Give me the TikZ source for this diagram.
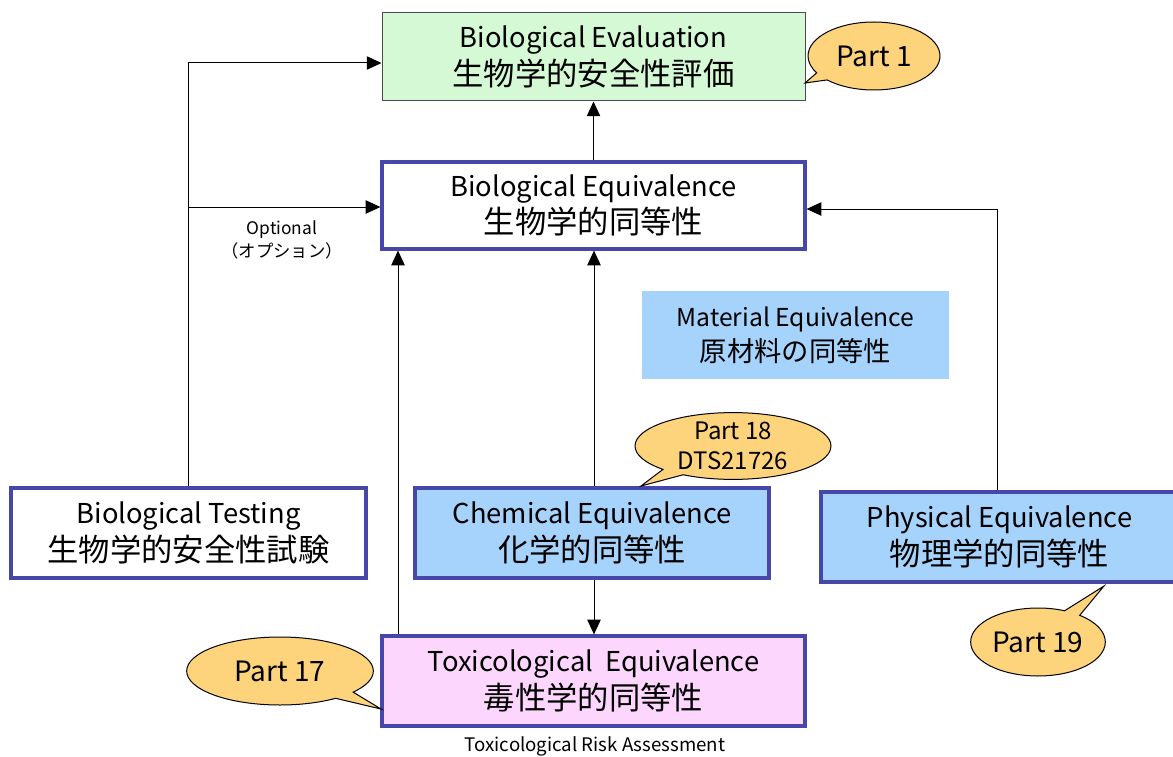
\documentclass[tikz,border=0pt]{standalone}
\usepackage{fontspec}
\setmainfont{Noto Sans CJK JP}
\usetikzlibrary{arrows.meta,shapes.callouts,shapes.geometric}
\definecolor{evalgreen}{HTML}{D5F9D4}
\definecolor{boxblue}{HTML}{4747A8}
\definecolor{lightblue}{HTML}{A6D3FB}
\definecolor{pinkfill}{HTML}{FCD6FC}
\definecolor{calloutfill}{HTML}{FDD37B}
\newcommand{\jpl}{\fontsize{23.5}{28}\selectfont}
\tikzset{
  box/.style={draw=boxblue, line width=2.4pt, inner sep=0pt, align=center, font=\fontsize{20.5}{28}\selectfont},
  evalbox/.style={draw=black!70, line width=0.75pt, fill=evalgreen, inner sep=0pt, align=center, font=\fontsize{20.5}{28}\selectfont},
  callbox/.style={ellipse callout, draw=black, line width=0.75pt, fill=calloutfill, inner sep=0pt, align=center, font=\fontsize{21}{23}\selectfont},
  conn/.style={draw=black, line width=0.75pt},
  arr/.style={conn, -{Triangle[length=11pt,width=10pt]}}
}
\begin{document}
\begin{tikzpicture}[x=0.75pt,y=-0.75pt]
\clip (0,0) rectangle (1173,756);
\fill[white] (0,0) rectangle (1173,756);

\node[evalbox, minimum width=317.25pt, minimum height=66pt] (eval) at (593.5,57)
  {Biological Evaluation\\{\jpl 生物学的安全性評価}};
\node[box, fill=white, minimum width=317.25pt, minimum height=65.25pt] (equiv) at (593.5,205.5)
  {Biological Equivalence\\{\jpl 生物学的同等性}};
\node[fill=lightblue, inner sep=0pt, align=center, font=\fontsize{18.5}{26}\selectfont, minimum width=230.25pt, minimum height=66pt] (mat) at (795.5,335)
  {Material Equivalence\\{\fontsize{20.5}{26}\selectfont 原材料の同等性}};
\node[box, fill=white, minimum width=266.25pt, minimum height=67.5pt] (test) at (188.5,533)
  {Biological Testing\\{\jpl 生物学的安全性試験}};
\node[box, fill=lightblue, minimum width=265.5pt, minimum height=67.5pt] (chem) at (592,533)
  {Chemical Equivalence\\{\jpl 化学的同等性}};
\node[box, fill=lightblue, minimum width=267.75pt, minimum height=67.5pt] (phys) at (999.5,537)
  {Physical Equivalence\\{\jpl 物理学的同等性}};
\node[box, fill=pinkfill, minimum width=317.25pt, minimum height=67.5pt] (tox) at (593.5,681)
  {Toxicological\ \ Equivalence\\{\jpl 毒性学的同等性}};
\node[font=\fontsize{14}{16}\selectfont] (risk) at (595,746) {Toxicological Risk Assessment};

% connectors
\coordinate (c1) at (188,63);
\coordinate (c2) at (188,207);
\coordinate (c3) at (997,209);
\draw[arr] (test.north -| c1) -- (c1) -- (c1 -| eval.west);
\draw[arr] (c2) -- (c2 -| equiv.west);
\node[font=\fontsize{13}{17}\selectfont, align=center] (opt) at (282,240) {Optional\\（オプション）};
\draw[arr] (equiv.north -| eval.south) -- (eval.south);
\draw[arr] (tox.north -| 398,0) -- (equiv.south -| 398,0);
\draw[arr] (chem.north -| 594,0) -- (equiv.south -| 594,0);
\draw[arr] (chem.south -| 594,0) -- (tox.north -| 594,0);
\draw[arr] (phys.north -| c3) -- (c3) -- (c3 -| equiv.east);

% callouts
\coordinate (p1) at (805,83);
\coordinate (p18) at (641,486);
\coordinate (p19) at (1104,586);
\coordinate (p17) at (381,709);
\node[callbox, minimum width=99pt, minimum height=51pt, callout absolute pointer={(p1)}] (part1) at (874,56) {Part 1};
\node[callbox, minimum width=147pt, minimum height=49.5pt, callout absolute pointer={(p18)}, font=\fontsize{18}{22}\selectfont] (part18) at (733,446) {Part 18\\DTS21726};
\node[callbox, minimum width=101pt, minimum height=51pt, callout absolute pointer={(p19)}] (part19) at (1038,642) {Part 19};
\node[callbox, minimum width=140pt, minimum height=51pt, callout absolute pointer={(p17)}] (part17) at (280,671) {Part 17};
\end{tikzpicture}
\end{document}
